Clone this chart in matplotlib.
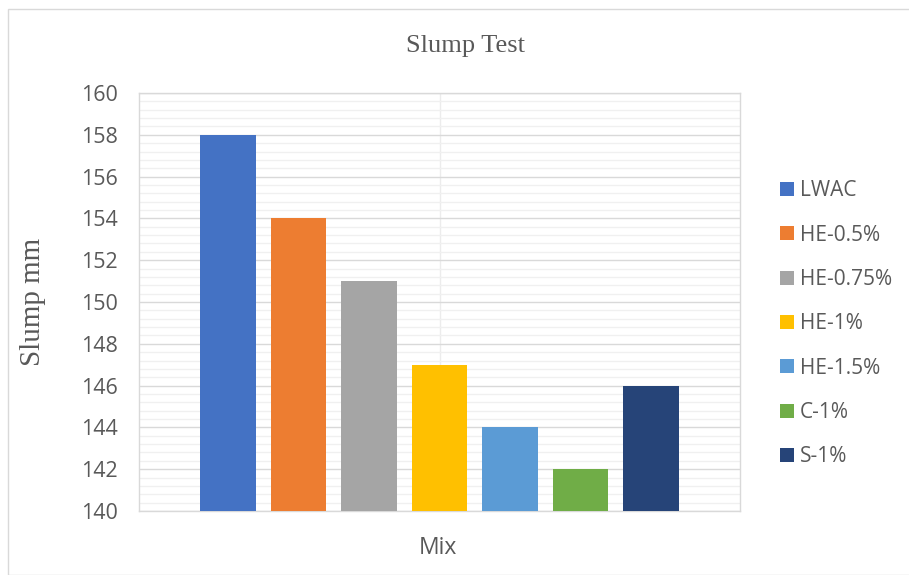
import numpy as np
import matplotlib
matplotlib.use("Agg")
import matplotlib.pyplot as plt
from matplotlib.patches import Rectangle

# data
mixes = ["LWAC", "HE-0.5%", "HE-0.75%", "HE-1%", "HE-1.5%", "C-1%", "S-1%"]
slump = [158, 154, 151, 147, 144, 142, 146]
colors = ["#4472C4", "#ED7D31", "#A5A5A5", "#FFC000", "#5B9BD5", "#70AD47", "#264478"]

W, H = 909, 575
fig = plt.figure(figsize=(W / 100, H / 100), dpi=100)

# chart area border (Excel style)
fig.patches.append(Rectangle((8 / W, 0), 1.0, 1 - 9 / H, transform=fig.transFigure,
                             fill=False, edgecolor="#d9d9d9", linewidth=1.0))

ax = fig.add_axes([139 / W, 1 - 511 / H, (740 - 139) / W, (511 - 93) / H])

n = len(mixes)
pitch = 0.1173
width = 0.093
offsets = (np.arange(n) - (n - 1) / 2) * pitch
for off, val, col, lab in zip(offsets, slump, colors, mixes):
    ax.bar(off, val - 140, width=width, bottom=140, color=col, label=lab, zorder=3)

ax.set_xlim(-0.5, 0.5)
ax.set_ylim(140, 160)
ax.set_yticks(np.arange(140, 161, 2))
ax.set_yticks(np.arange(140, 160.01, 0.4), minor=True)
ax.set_xticks([0])
ax.set_xticklabels([])
ax.tick_params(axis="x", length=0)
ax.tick_params(axis="y", which="both", length=0, labelsize=15.5, labelcolor="#595959", pad=15)
for lbl in ax.get_yticklabels():
    lbl.set_family("Open Sans")

ax.grid(axis="y", which="major", color="#d9d9d9", linewidth=1.0, zorder=1)
ax.grid(axis="y", which="minor", color="#f0f0f0", linewidth=1.0, zorder=0)
ax.grid(axis="x", which="major", color="#ececec", linewidth=1.0, zorder=1)
for s in ax.spines.values():
    s.set_color("#d9d9d9")
    s.set_linewidth(1.0)

fig.text(465 / W, 1 - 46 / H, "Slump Test", ha="center", va="center",
         family="Liberation Serif", fontsize=19, color="#595959")
fig.text(33 / W, 1 - 302 / H, "Slump mm", ha="center", va="center", rotation=90,
         family="Liberation Serif", fontsize=21, color="#595959")
fig.text(438 / W, 1 - 548 / H, "Mix", ha="center", va="center",
         family="Open Sans", fontsize=16.5, color="#595959")

leg = ax.legend(loc="upper left", bbox_to_anchor=(772 / W, 1 - 172 / H),
                bbox_transform=fig.transFigure, frameon=False,
                prop={"family": "Open Sans", "size": 15},
                handlelength=0.65, handleheight=0.65, handletextpad=0.3,
                labelspacing=1.12, borderaxespad=0)
for t in leg.get_texts():
    t.set_color("#595959")

fig.savefig("out.png", dpi=100)
